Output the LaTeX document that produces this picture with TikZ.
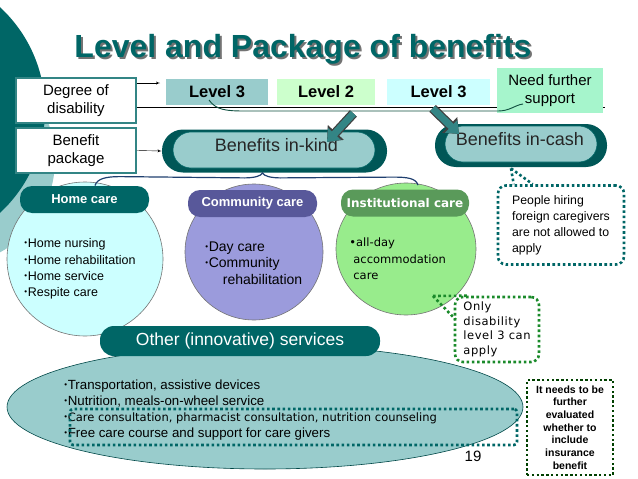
\documentclass[tikz,border=0pt]{standalone}
\usepackage{fontspec}
\setmainfont{Liberation Sans}
\newfontfamily\verdana{DejaVu Sans}
\newfontfamily\verdanawide[LetterSpace=5]{DejaVu Sans}
\usepackage{tikz}
\usetikzlibrary{arrows,arrows.meta,calc,shapes.geometric}
\definecolor{DarkTeal}{HTML}{006666}
\definecolor{LightTeal}{HTML}{99CCCC}
\definecolor{MintBox}{HTML}{A6F5CC}
\definecolor{PaleGreen}{HTML}{CCFFCC}
\definecolor{PaleCyan}{HTML}{CCFFFF}
\definecolor{SlateBlue}{HTML}{58589A}
\definecolor{Lavender}{HTML}{9B9BDC}
\definecolor{LeafGreen}{HTML}{5A9A5A}
\definecolor{SpringGreen}{HTML}{98EC8C}
\definecolor{DotGreen}{HTML}{1A8A2A}
\definecolor{BraceBlue}{HTML}{1F3F6F}
\definecolor{CurveGreen}{HTML}{0F4F3F}
\newcommand{\bul}{{\fontsize{8}{8}\selectfont\raisebox{2pt}{•}}\kern0.6pt}

\begin{document}
\begin{tikzpicture}[x=1pt, y=-1pt, thick,
  rowbox/.style={rectangle, draw=DarkTeal!80, line width=1.6pt, fill=white, inner sep=0, %
        minimum width=120, minimum height=45, align=center, font=\fontsize{15}{18}\selectfont},
  levelbox/.style={rectangle, inner sep=0, minimum height=26, font=\bfseries\fontsize{16.5}{18}\selectfont},
  pillout/.style={rectangle, rounded corners=21pt, fill=DarkTeal!85!black, inner sep=0, minimum height=43},
  pillin/.style={rectangle, rounded corners=18pt, fill=LightTeal, draw=DarkTeal, line width=0.6pt, %
        inner sep=0, minimum height=36},
  cattab/.style={rectangle, rounded corners=12pt, inner sep=0, minimum width=129, minimum height=27, %
        text=white, font=\bfseries\fontsize{13}{14}\selectfont},
  carecircle/.style={ellipse, draw=black!55, line width=0.6pt, inner sep=0},
  bulletlist/.style={anchor=base west, align=left, inner sep=0},
  tealdots/.style={draw=DarkTeal, line width=2.6pt, dash pattern=on 2.6pt off 2.6pt},
  greendots/.style={draw=DotGreen, line width=2.6pt, dash pattern=on 2.6pt off 2.6pt},
  blockout/.style={line width=9.5pt, draw=black!75, -{Triangle[length=13pt, width=21pt]}},
  blockin/.style={line width=7pt, draw=DarkTeal!80, -{Triangle[length=11pt, width=17pt]}}]
  \useasboundingbox (0,0) rectangle (638,479);
%
  \fill[LightTeal] (-50,160) circle[radius=105];
  \fill[DarkTeal] (-95,110) circle[radius=140];
%
  \node[anchor=base, text=black!55, font=\bfseries\fontsize{32}{36}\selectfont] %
       (TitleShadow) at (305,59) {Level and Package of benefits};
  \node[anchor=base, text=DarkTeal, font=\bfseries\fontsize{32}{36}\selectfont] %
       (Title) at (303,57) {Level and Package of benefits};
%
  \node[rowbox] (Degree) at (76,100.5) {Degree of\\disability};
  \node[rowbox] (Benefit) at (76,150.5) {Benefit\\package};
%
  \coordinate (RowEnd) at (605,107);
  \draw[thin] ($(Degree.east)+(0,6.5)$) -- (RowEnd);
  \draw[thin, -latex'] ($(Degree.east)+(0,-17.5)$) -- (160,83);
%
  \node[levelbox, fill=LightTeal, minimum width=102] (LevelA) at (217,92) {Level 3};
  \node[levelbox, fill=PaleGreen, minimum width=98] (LevelB) at (326,92) {Level 2};
  \node[levelbox, fill=PaleCyan, minimum width=103] (LevelC) at (438.5,92) {Level 3};
  \node[levelbox, fill=MintBox, minimum width=106, minimum height=45, align=center, %
        font=\fontsize{15}{18}\selectfont] (Need) at (550,90.5) {Need further\\support};
%
  \coordinate (CurveStart) at (209,100);
  \coordinate (CurveEnd) at (523,104);
  \draw[CurveGreen, line width=0.9pt] (CurveStart) .. controls (216,110) and (226,111) .. (245,111) %
    -- (498,111) .. controls (510,111) and (515,105) .. (CurveEnd);
%
  \node[pillout, minimum width=225] (Kind) at (274.5,151) {};
  \node[pillin, minimum width=202] (KindIn) at (274,150) {};
  \node[anchor=base, font=\fontsize{18}{20}\selectfont, text=black!85] (KindText) at (276.5,151.5) %
       {Benefits in-kind};
  \node[pillout, minimum width=172] (Cash) at (521,145.5) {};
  \node[pillin, minimum width=152] (CashIn) at (521,144) {};
  \node[anchor=base, font=\fontsize{18}{20}\selectfont, text=black!85] (CashText) at (520,145) %
       {Benefits in-cash};
%
  \draw[thin, -latex'] (Benefit.east) -- (Kind.west);
%
  \coordinate (KindTip) at (327,142);
  \coordinate (CashTip) at (459,134);
  \draw[blockout] ($(LevelB.south east)+(-22,8)$) -- (KindTip);
  \draw[blockin] ($(LevelB.south east)+(-22,8)$) -- (KindTip);
  \draw[blockout] ($(LevelC.south west)+(46,3)$) -- (CashTip);
  \draw[blockin] ($(LevelC.south west)+(46,3)$) -- (CashTip);
%
  \node[carecircle, fill=PaleCyan, minimum width=156, minimum height=154] (HomeCircle) at (85,259) {};
  \node[carecircle, fill=Lavender, minimum width=138, minimum height=136] (CommCircle) at (254,252) {};
  \node[carecircle, fill=SpringGreen, minimum width=140, minimum height=132] (InstCircle) at (406,249) {};
%
  \node[cattab, fill=DarkTeal] (HomeTab) at (84.5,199.5) {Home care};
  \node[cattab, fill=SlateBlue] (CommTab) at (252.5,203.5) {Community care};
  \node[cattab, fill=LeafGreen, minimum width=128, font=\verdana\bfseries\fontsize{12}{14}\selectfont] %
       (InstTab) at (405,203) {Institutional care};
%
  \coordinate (BraceL) at ($(HomeTab.north)+(10.5,0)$);
  \coordinate (BraceR) at ($(InstTab.north)+(13,-4)$);
  \coordinate (BraceTip) at ($(Kind.south)+(-12,0)$);
  \draw[BraceBlue, line width=1.2pt] (BraceL) .. controls +(2,-7) and +(-14,0) .. ($(BraceL)+(25,-9)$) %
    -- ($(BraceTip)+(-18,5)$) .. controls +(10,0) and +(-1,3) .. (BraceTip) %
    .. controls +(1,3) and +(-10,0) .. ($(BraceTip)+(18,5)$) %
    -- ($(BraceR)+(-25,-8)$) .. controls +(14,0) and +(-2,-7) .. (BraceR);
%
  % lists are anchored at the baseline of their last line
  \node[bulletlist, font=\fontsize{12.5}{16.3}\selectfont] (HomeList) at (24,296.6) %
       {\bul Home nursing\\\bul Home rehabilitation\\\bul Home service\\\bul Respite care};
  \node[bulletlist, font=\fontsize{14}{16.5}\selectfont] (CommList) at (205,284) %
       {\bul Day care\\\bul Community\\\hspace{17.5pt}rehabilitation};
  \node[bulletlist, font=\verdana\fontsize{11.5}{16.5}\selectfont] (InstList) at (349,279.7) %
       {•all-day\\\hspace{4pt}accommodation\\\hspace{4pt}care};
%
  \node[carecircle, fill=LightTeal, draw=DarkTeal!70!black, minimum width=516, minimum height=124] %
       (Other) at (265,407) {};
  \node[cattab, fill=DarkTeal, minimum width=280, minimum height=30, rounded corners=14pt, %
        font=\fontsize{17.5}{20}\selectfont] (OtherTab) at (240,341) {Other (innovative) services};
  \node[bulletlist, font=\fontsize{13.3}{16}\selectfont] (OtherList) at (64,437.5) %
       {\bul Transportation, assistive devices\\\bul Nutrition, meals-on-wheel service\\%
        \bul{\verdana\fontsize{11.5}{16}\selectfont Care consultation, pharmacist consultation, nutrition counseling}\\%
        \bul Free care course and support for care givers};
  \node[tealdots, rectangle, rounded corners=3pt, inner sep=0, minimum width=447, minimum height=36] %
       (CareBox) at (293.5,427) {};
  \node[anchor=base, font=\fontsize{15}{18}\selectfont] (PageNum) at (473,461.5) {19};
%
  \node[tealdots, rectangle, rounded corners=8pt, inner sep=0, minimum width=126, minimum height=79, %
        align=left, font=\fontsize{12.3}{16}\selectfont] (People) at (561,225) %
       {People hiring\\foreign caregivers\\are not allowed to\\apply};
  \coordinate (CashPoint) at ($(Cash.south)+(-10,1)$);
  \draw[tealdots] (CashPoint) -- ($(People.north west)+(17,0)$);
  \draw[tealdots] (CashPoint) -- ($(People.north west)+(36,0)$);
%
  \node[greendots, rectangle, rounded corners=8pt, inner sep=0, minimum width=84, minimum height=65, %
        align=left, font=\verdanawide\fontsize{11.5}{14.5}\selectfont] (Only) at (497,329.5) %
       {Only\\disability\\level 3 can\\apply};
  \coordinate (OnlyTip) at (433,296);
  \draw[greendots] (OnlyTip) -- ($(Only.north west)+(2,24)$);
  \draw[greendots] (OnlyTip) -- ($(Only.north west)+(14,0)$);
%
  \node[rectangle, draw=black!75!green, line width=2.4pt, dash pattern=on 2.4pt off 2.4pt, inner sep=0, %
        minimum width=86, minimum height=95, align=center, font=\bfseries\fontsize{10.5}{12.7}\selectfont] %
       (Eval) at (570,427.5) {It needs to be\\further\\evaluated\\whether to\\include\\insurance\\benefit};
\end{tikzpicture}
\end{document}
